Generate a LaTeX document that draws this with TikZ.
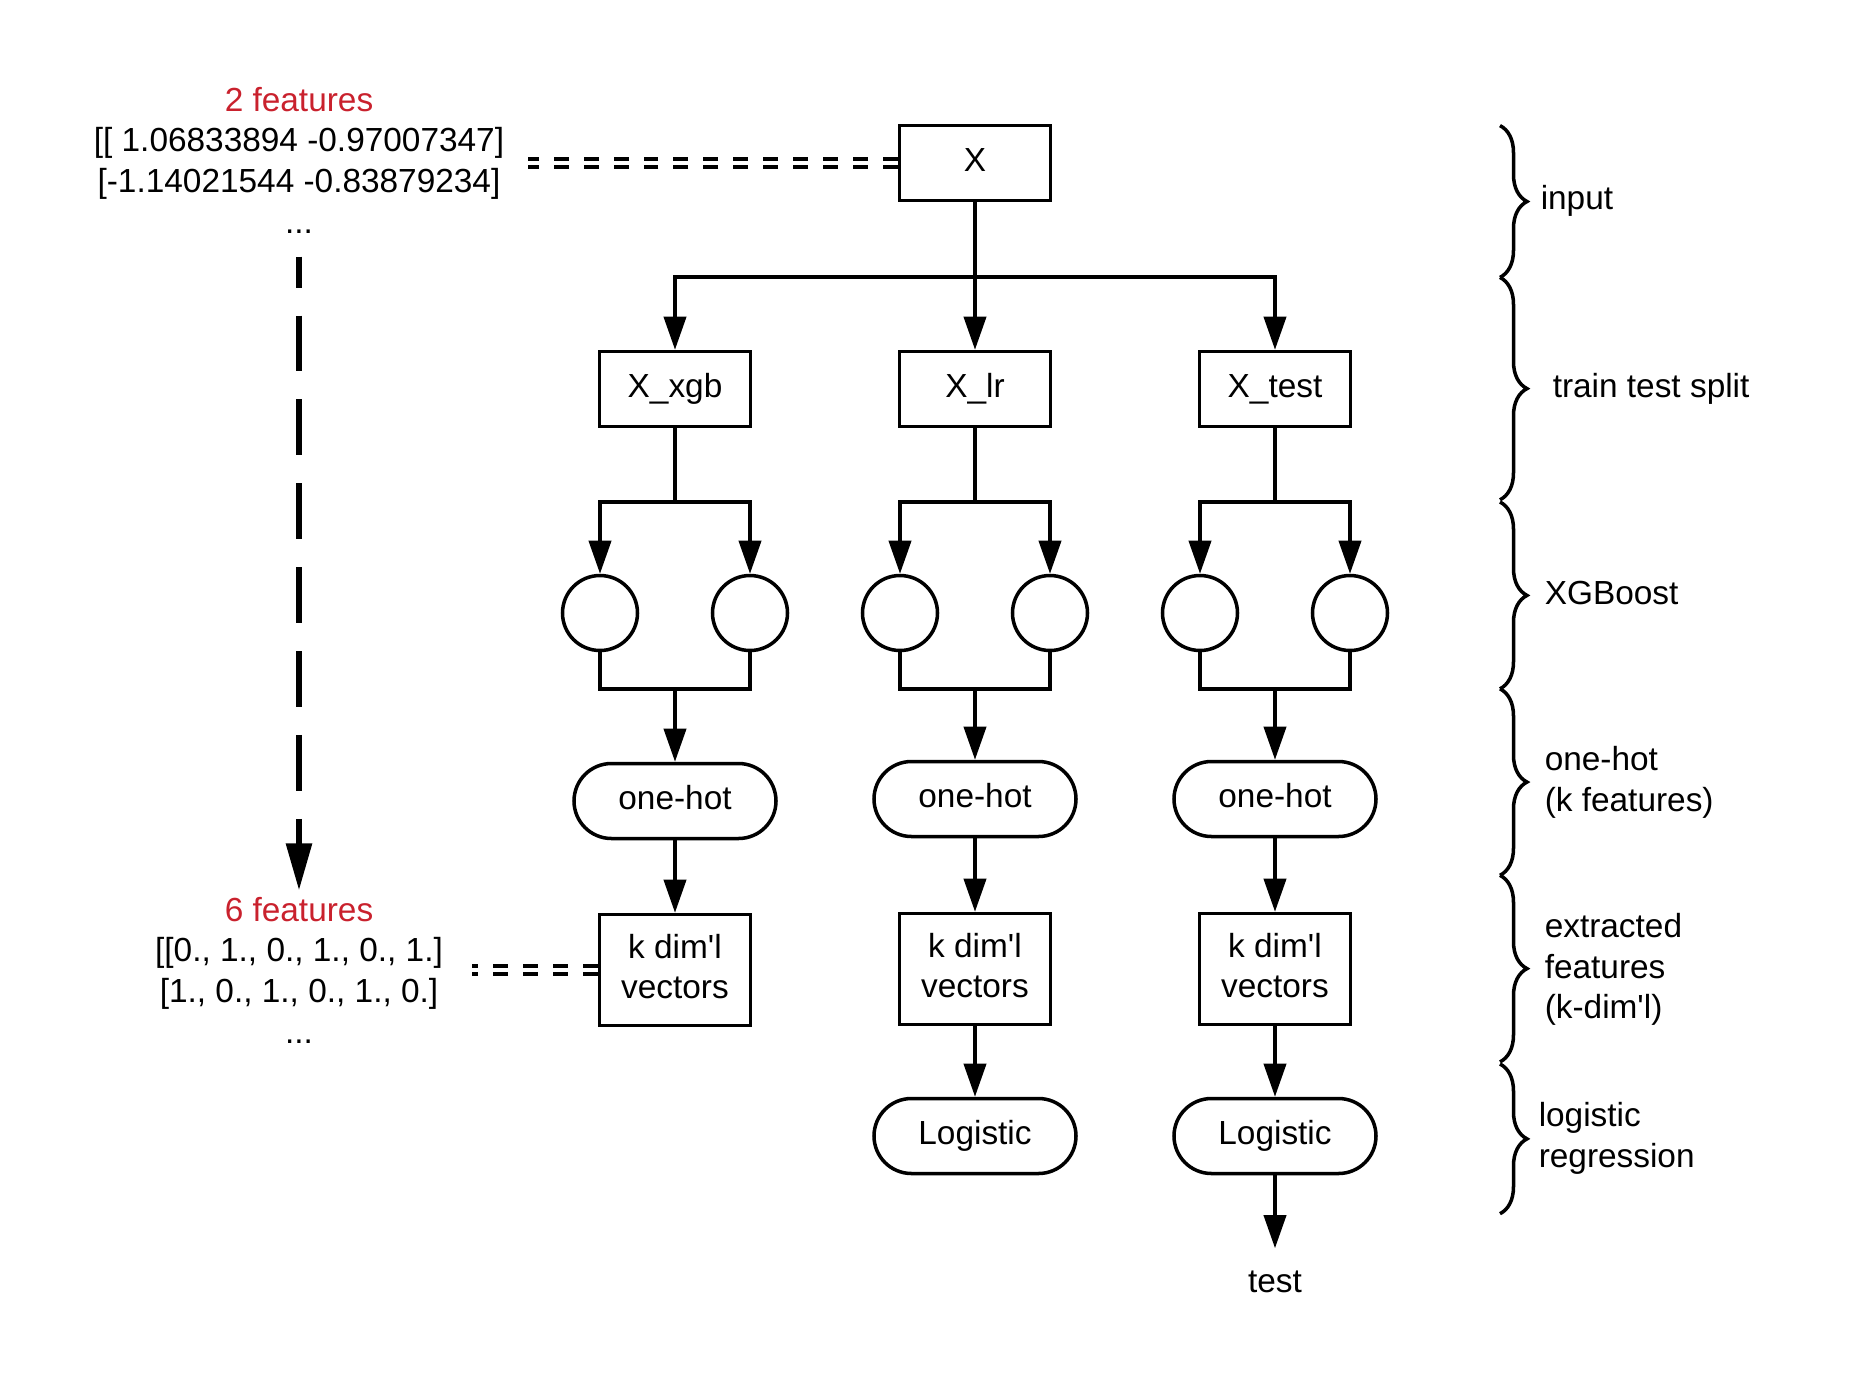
\documentclass[tikz,border=0pt]{standalone}
\usepackage{fontspec}
\setmainfont{Liberation Sans}
\usepackage{xcolor}
\usetikzlibrary{positioning,arrows.meta,decorations.pathreplacing}
\definecolor{featred}{RGB}{201,33,45}

\begin{document}
\begin{tikzpicture}[
    >={Triangle[length=9.4pt,width=6.3pt]},
    line width=1pt,
    every node/.style={font=\fontsize{9.5}{11.57}\selectfont},
    box/.style={rectangle, draw, minimum width=1.51cm, minimum height=0.75cm, text height=6.8pt, text depth=2pt},
    vecbox/.style={rectangle, draw, minimum width=1.51cm, minimum height=1.11cm, align=center, text depth=2pt},
    leaf/.style={circle, draw, minimum size=0.75cm, inner sep=0pt},
    pill/.style={rectangle, draw, rounded corners=0.375cm, minimum width=2.02cm, minimum height=0.75cm, text height=6.8pt, text depth=2pt},
    data/.style={align=center},
    dbldash/.style={double, line width=1.15pt, double distance=1pt, dash pattern=on 4.25pt off 4.26pt},
    bigdash/.style={line width=1.7pt, dash pattern=on 15.9pt off 7.97pt, dash phase=7.1pt, -{Triangle[length=13.4pt,width=7.1pt]}},
    stage/.style={anchor=west, align=left, inner sep=0pt},
    bracket/.style={decorate, decoration={brace, amplitude=0.27cm}}
]
\useasboundingbox (0,0) rectangle (18.75,-13.99);

% Column positions
\def\colA{6.75}
\def\colB{9.75}
\def\colC{12.75}

% === Sample data on the left ===
\node[data] (in2) at (2.99, -1.60) {\textcolor{featred}{2 features}\\{}[[ 1.06833894 -0.97007347]\\{}[-1.14021544 -0.83879234]\\...};
\node[data] (out6) at (2.99, -9.70) {\textcolor{featred}{6 features}\\{}[[0., 1., 0., 1., 0., 1.]\\{}[1., 0., 1., 0., 1., 0.]\\...};
\draw[bigdash, shorten <=2.85pt, shorten >=-2pt] (in2.south) -- (out6.north);

% === Input ===
\node[box] (x0) at (\colB, -1.63) {X};
\draw[dbldash, shorten >=2.85pt] (x0.west) -- (in2.east |- x0.west);

% === Train test split ===
\coordinate (split) at (\colB, -2.77);
\node[box] (xgb) at (\colA, -3.89) {X\_xgb};
\node[box] (xlr) at (\colB, -3.89) {X\_lr};
\node[box] (xtest) at (\colC, -3.89) {X\_test};

\draw (x0) -- (split);
\draw[->] (split) -| (xgb);
\draw[->] (split) -- (xlr);
\draw[->] (split) -| (xtest);

% === XGBoost trees ===
\coordinate (brA) at (\colA, -5.02);
\coordinate (brB) at (\colB, -5.02);
\coordinate (brC) at (\colC, -5.02);

\node[leaf] (tA1) at (6.0, -6.13) {};
\node[leaf] (tA2) at (7.5, -6.13) {};
\node[leaf] (tB1) at (9.0, -6.13) {};
\node[leaf] (tB2) at (10.5, -6.13) {};
\node[leaf] (tC1) at (12.0, -6.13) {};
\node[leaf] (tC2) at (13.5, -6.13) {};

\draw (xgb) -- (brA);
\draw (xlr) -- (brB);
\draw (xtest) -- (brC);
\draw[->] (brA) -| (tA1);
\draw[->] (brA) -| (tA2);
\draw[->] (brB) -| (tB1);
\draw[->] (brB) -| (tB2);
\draw[->] (brC) -| (tC1);
\draw[->] (brC) -| (tC2);

% Merge lines under the trees
\coordinate (mgA) at (\colA, -6.89);
\coordinate (mgB) at (\colB, -6.89);
\coordinate (mgC) at (\colC, -6.89);
\draw (tA1) |- (mgA) -| (tA2);
\draw (tB1) |- (mgB) -| (tB2);
\draw (tC1) |- (mgC) -| (tC2);

% === One-hot ===
\node[pill] (ohA) at (\colA, -8.01) {one-hot};
\node[pill] (ohB) at (\colB, -7.99) {one-hot};
\node[pill] (ohC) at (\colC, -7.99) {one-hot};
\draw[->] (mgA) -- (ohA);
\draw[->] (mgB) -- (ohB);
\draw[->] (mgC) -- (ohC);

% === Extracted vectors ===
\node[vecbox] (kvA) at (\colA, -9.70) {k dim\textquotesingle l\\vectors};
\node[vecbox] (kvB) at (\colB, -9.69) {k dim\textquotesingle l\\vectors};
\node[vecbox] (kvC) at (\colC, -9.69) {k dim\textquotesingle l\\vectors};
\draw[->] (ohA) -- (kvA);
\draw[->] (ohB) -- (kvB);
\draw[->] (ohC) -- (kvC);
\draw[dbldash, shorten >=4.5pt] (kvA.west) -- (out6.east |- kvA.west);

% === Logistic regression ===
\node[pill] (lgB) at (\colB, -11.36) {Logistic};
\node[pill] (lgC) at (\colC, -11.36) {Logistic};
\draw[->] (kvB) -- (lgB);
\draw[->] (kvC) -- (lgC);

% Result
\node[inner sep=6pt] (out) at (\colC, -12.82) {test};
\draw[->] (lgC) -- (out);

% === Stage braces ===
\draw[bracket] (15.0, -1.256) -- (15.0, -2.774);
\draw[bracket] (15.0, -2.774) -- (15.0, -4.998);
\draw[bracket] (15.0, -5.02) -- (15.0, -6.888);
\draw[bracket] (15.0, -6.888) -- (15.0, -8.753);
\draw[bracket] (15.0, -8.753) -- (15.0, -10.619);
\draw[bracket] (15.0, -10.64) -- (15.0, -12.137);

% Stage labels
\node[stage] (lbin) at (15.39, -2.01) {input};
\node[stage] (lbsplit) at (15.51, -3.886) {train test split};
\node[stage] (lbxgb) at (15.43, -5.93) {XGBoost};
\node[stage] (lboh) at (15.43, -7.826) {one-hot\\(k features)};
\node[stage] (lbext) at (15.43, -9.696) {extracted\\features\\(k-dim\textquotesingle l)};
\node[stage] (lblog) at (15.37, -11.384) {logistic\\regression};

\end{tikzpicture}
\end{document}
